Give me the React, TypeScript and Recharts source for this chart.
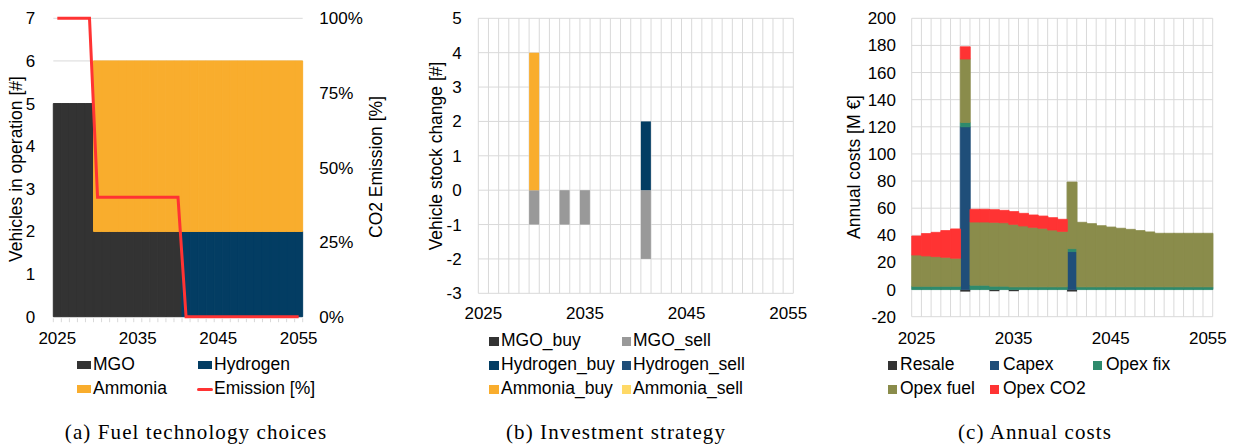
import React from "react"
import { ComposedChart, Bar, Line, XAxis, YAxis, CartesianGrid } from "recharts"

// categories
const years = [
  2025, 2026, 2027, 2028, 2029, 2030, 2031, 2032, 2033, 2034, 2035, 2036, 2037, 2038, 2039, 2040,
  2041, 2042, 2043, 2044, 2045, 2046, 2047, 2048, 2049, 2050, 2051, 2052, 2053, 2054, 2055,
]

// (a) vehicles in operation [#] and CO2 emission share
const mgoFleet = [5, 5, 5, 5, 5, 2, 2, 2, 2, 2, 2, 2, 2, 2, 2, 2, 0, 0, 0, 0, 0, 0, 0, 0, 0, 0, 0, 0, 0, 0, 0]
const hydrogenFleet = [0, 0, 0, 0, 0, 0, 0, 0, 0, 0, 0, 0, 0, 0, 0, 0, 2, 2, 2, 2, 2, 2, 2, 2, 2, 2, 2, 2, 2, 2, 2]
const ammoniaFleet = [0, 0, 0, 0, 0, 4, 4, 4, 4, 4, 4, 4, 4, 4, 4, 4, 4, 4, 4, 4, 4, 4, 4, 4, 4, 4, 4, 4, 4, 4, 4]
const emissionShare = [
  1, 1, 1, 1, 1, 0.4, 0.4, 0.4, 0.4, 0.4, 0.4, 0.4, 0.4, 0.4, 0.4, 0.4, 0, 0, 0, 0, 0, 0, 0, 0, 0, 0, 0, 0, 0, 0, 0,
]

// (b) vehicle stock change [#]
const mgoBuy = [0, 0, 0, 0, 0, 0, 0, 0, 0, 0, 0, 0, 0, 0, 0, 0, 0, 0, 0, 0, 0, 0, 0, 0, 0, 0, 0, 0, 0, 0, 0]
const mgoSell = [0, 0, 0, 0, 0, -1, 0, 0, -1, 0, -1, 0, 0, 0, 0, 0, -2, 0, 0, 0, 0, 0, 0, 0, 0, 0, 0, 0, 0, 0, 0]
const hydrogenBuy = [0, 0, 0, 0, 0, 0, 0, 0, 0, 0, 0, 0, 0, 0, 0, 0, 2, 0, 0, 0, 0, 0, 0, 0, 0, 0, 0, 0, 0, 0, 0]
const hydrogenSell = [0, 0, 0, 0, 0, 0, 0, 0, 0, 0, 0, 0, 0, 0, 0, 0, 0, 0, 0, 0, 0, 0, 0, 0, 0, 0, 0, 0, 0, 0, 0]
const ammoniaBuy = [0, 0, 0, 0, 0, 4, 0, 0, 0, 0, 0, 0, 0, 0, 0, 0, 0, 0, 0, 0, 0, 0, 0, 0, 0, 0, 0, 0, 0, 0, 0]
const ammoniaSell = [0, 0, 0, 0, 0, 0, 0, 0, 0, 0, 0, 0, 0, 0, 0, 0, 0, 0, 0, 0, 0, 0, 0, 0, 0, 0, 0, 0, 0, 0, 0]

// (c) annual costs [M €]
const resale = [0, 0, 0, 0, 0, -1.5, 0, 0, -1.2, 0, -1.2, 0, 0, 0, 0, 0, -1.5, 0, 0, 0, 0, 0, 0, 0, 0, 0, 0, 0, 0, 0, 0]
const capex = [0, 0, 0, 0, 0, 120, 0, 0, 0, 0, 0, 0, 0, 0, 0, 0, 28, 0, 0, 0, 0, 0, 0, 0, 0, 0, 0, 0, 0, 0, 0]
const opexFix = [
  2.4, 2.4, 2.4, 2.4, 2.4, 3.2, 3.2, 3.2, 2.5, 2.5, 2, 2, 2, 2, 2, 2, 2.2, 2, 2, 2, 2, 2, 2, 2, 2, 2, 2, 2, 2, 2, 2,
]
const opexFuel = [
  23.1, 22.4, 21.9, 21.4, 20.7, 46.8, 46.6, 46.6, 47.1, 46.8, 46.1, 44.9, 43.9, 43.2, 41.9, 40.9, 49.1, 47.6, 46.6,
  45.1, 44.1, 43.2, 42.4, 41.5, 40.5, 39.5, 39.5, 39.5, 39.5, 39.5, 39.5,
]
const opexCo2 = [
  14, 16.5, 17.9, 19.7, 21.6, 9, 9.4, 9.4, 9.3, 9.1, 9.4, 9.3, 9.1, 9, 9.1, 8.9, 0, 0, 0, 0, 0, 0, 0, 0, 0, 0, 0, 0, 0,
  0, 0,
]

// tick labels
const fleetTicks = [0, 1, 2, 3, 4, 5, 6, 7]
const shareTicks = [0, 0.25, 0.5, 0.75, 1]
const stockTicks = [-3, -2, -1, 0, 1, 2, 3, 4, 5]
const costTicks = [-20, 0, 20, 40, 60, 80, 100, 120, 140, 160, 180, 200]

const fleetData = years.map((year, i) => ({
  year,
  MGO: mgoFleet[i],
  Hydrogen: hydrogenFleet[i],
  Ammonia: ammoniaFleet[i],
  Emission: emissionShare[i],
}))

const stockData = years.map((year, i) => ({
  year,
  MGO_buy: mgoBuy[i],
  MGO_sell: mgoSell[i],
  Hydrogen_buy: hydrogenBuy[i],
  Hydrogen_sell: hydrogenSell[i],
  Ammonia_buy: ammoniaBuy[i],
  Ammonia_sell: ammoniaSell[i],
}))

const costData = years.map((year, i) => ({
  year,
  Resale: resale[i],
  Capex: capex[i],
  "Opex fix": opexFix[i],
  "Opex fuel": opexFuel[i],
  "Opex CO2": opexCo2[i],
}))

const SANS = "'Liberation Sans', Arial, Helvetica, sans-serif"
const SERIF = "'Liberation Serif', 'Times New Roman', serif"
const GRID = "#d9d9d9"
const tickStyle = { fill: "#000", fontSize: 17, fontFamily: SANS }

const DARK = "#333333"
const NAVY = "#033d63"
const BLUE = "#1f4e79"
const ORANGE = "#f9ad2d"
const GREY = "#999999"
const PALE = "#ffd966"
const TEAL = "#2e8a6c"
const OLIVE = "#8a8c4b"
const RED = "#ff3333"

// vertical grid lines sit on the category boundaries, not the centres
const bandGrid = (args: any) => {
  const o = args.offset
  const step = o.width / years.length
  return [...years.map((_, i) => o.left + i * step), o.left + o.width]
}

// year axis of (a): short tick marks between categories, a label every ten years
const FleetYearTick = (props: any) => {
  const { x, y, payload, index } = props
  const half = payload && payload.offset ? payload.offset : 0
  const last = index === years.length - 1
  return (
    <g>
      <line x1={x - half} x2={x - half} y1={y + 1.6} y2={y + 5.5} stroke={GRID} />
      {last && <line x1={x + half} x2={x + half} y1={y + 1.6} y2={y + 5.5} stroke={GRID} />}
      {index % 10 === 0 && (
        <text x={x} y={y + 15} dy="0.71em" textAnchor="middle" fill="#000" fontSize={17} fontFamily={SANS}>
          {payload.value}
        </text>
      )}
    </g>
  )
}

type LegendItem = { label: string; color: string; x: number; y: number; w: number; h: number; tx: number; line?: boolean }

const legendItems: LegendItem[] = [
  { label: "MGO", color: DARK, x: 77, y: 365, w: 14, h: 8, tx: 93 },
  { label: "Hydrogen", color: NAVY, x: 198, y: 365, w: 14, h: 8, tx: 214 },
  { label: "Ammonia", color: ORANGE, x: 77, y: 389, w: 14, h: 8, tx: 93 },
  { label: "Emission [%]", color: RED, x: 197, y: 389, w: 16, h: 3, tx: 214, line: true },

  { label: "MGO_buy", color: DARK, x: 489, y: 341, w: 10, h: 9, tx: 501 },
  { label: "MGO_sell", color: GREY, x: 622, y: 341, w: 9, h: 9, tx: 633 },
  { label: "Hydrogen_buy", color: NAVY, x: 489, y: 365, w: 10, h: 9, tx: 501 },
  { label: "Hydrogen_sell", color: BLUE, x: 622, y: 365, w: 9, h: 9, tx: 633 },
  { label: "Ammonia_buy", color: ORANGE, x: 489, y: 389, w: 10, h: 9, tx: 501 },
  { label: "Ammonia_sell", color: PALE, x: 622, y: 389, w: 9, h: 9, tx: 633 },

  { label: "Resale", color: DARK, x: 888, y: 365, w: 9, h: 9, tx: 900 },
  { label: "Capex", color: BLUE, x: 990, y: 365, w: 9, h: 9, tx: 1003 },
  { label: "Opex fix", color: TEAL, x: 1093, y: 365, w: 9, h: 9, tx: 1106 },
  { label: "Opex fuel", color: OLIVE, x: 888, y: 389, w: 9, h: 9, tx: 900 },
  { label: "Opex CO2", color: RED, x: 990, y: 389, w: 9, h: 9, tx: 1003 },
]

const axisTitles = [
  { text: "Vehicles in operation [#]", x: 17, y: 169 },
  { text: "CO2 Emission [%]", x: 377, y: 167 },
  { text: "Vehicle stock change [#]", x: 437, y: 156 },
  { text: "Annual costs [M €]", x: 855, y: 167 },
]

const captions = [
  { text: "(a) Fuel technology choices", x: 196 },
  { text: "(b) Investment strategy", x: 616 },
  { text: "(c) Annual costs", x: 1035 },
]

function FleetChart() {
  return (
    <ComposedChart
      width={410}
      height={360}
      data={fleetData}
      margin={{ top: 18.3, right: 0, bottom: 15, left: 0 }}
      barCategoryGap={0}
      barGap={0}
    >
      <CartesianGrid yAxisId="left" vertical={false} stroke={GRID} />
      <XAxis
        dataKey="year"
        height={28.3}
        interval={0}
        axisLine={false}
        tickLine={false}
        tickSize={0}
        tickMargin={0}
        tick={<FleetYearTick />}
      />
      <YAxis
        yAxisId="left"
        width={53.3}
        domain={[0, 7]}
        ticks={fleetTicks}
        axisLine={false}
        tickLine={false}
        tickSize={0}
        tickMargin={18}
        tick={tickStyle}
      />
      <YAxis
        yAxisId="right"
        orientation="right"
        width={107.3}
        domain={[0, 1]}
        ticks={shareTicks}
        tickFormatter={(v: number) => `${Math.round(v * 100)}%`}
        axisLine={false}
        tickLine={false}
        tickSize={0}
        tickMargin={16.6}
        tick={tickStyle}
      />
      <Bar yAxisId="left" dataKey="MGO" stackId="fleet" fill={DARK} stroke={DARK} strokeWidth={1} isAnimationActive={false} />
      <Bar yAxisId="left" dataKey="Hydrogen" stackId="fleet" fill={NAVY} stroke={NAVY} strokeWidth={1} isAnimationActive={false} />
      <Bar yAxisId="left" dataKey="Ammonia" stackId="fleet" fill={ORANGE} stroke={ORANGE} strokeWidth={1} isAnimationActive={false} />
      <Line
        yAxisId="right"
        type="linear"
        dataKey="Emission"
        stroke={RED}
        strokeWidth={3}
        dot={false}
        activeDot={false}
        isAnimationActive={false}
      />
    </ComposedChart>
  )
}

function StockChart() {
  return (
    <ComposedChart
      width={400}
      height={340}
      data={stockData}
      margin={{ top: 18.3, right: 16.7, bottom: 10, left: 0 }}
      barCategoryGap={0}
      barGap={0}
      stackOffset="sign"
    >
      <CartesianGrid stroke={GRID} verticalCoordinatesGenerator={bandGrid} />
      <XAxis
        dataKey="year"
        height={36.7}
        interval={9}
        axisLine={false}
        tickLine={false}
        tickSize={0}
        tickMargin={14}
        tick={tickStyle}
      />
      <YAxis
        width={68.3}
        domain={[-3, 5]}
        ticks={stockTicks}
        axisLine={false}
        tickLine={false}
        tickSize={0}
        tickMargin={16.6}
        tick={tickStyle}
      />
      <Bar dataKey="MGO_buy" stackId="s" fill={DARK} isAnimationActive={false} />
      <Bar dataKey="MGO_sell" stackId="s" fill={GREY} isAnimationActive={false} />
      <Bar dataKey="Hydrogen_buy" stackId="s" fill={NAVY} isAnimationActive={false} />
      <Bar dataKey="Hydrogen_sell" stackId="s" fill={BLUE} isAnimationActive={false} />
      <Bar dataKey="Ammonia_buy" stackId="s" fill={ORANGE} isAnimationActive={false} />
      <Bar dataKey="Ammonia_sell" stackId="s" fill={PALE} isAnimationActive={false} />
    </ComposedChart>
  )
}

function CostChart() {
  return (
    <ComposedChart
      width={415}
      height={360}
      data={costData}
      margin={{ top: 18.3, right: 22.3, bottom: 15, left: 0 }}
      barCategoryGap={0}
      barGap={0}
      stackOffset="sign"
    >
      <CartesianGrid stroke={GRID} verticalCoordinatesGenerator={bandGrid} />
      <XAxis
        dataKey="year"
        height={28.3}
        interval={9}
        axisLine={false}
        tickLine={false}
        tickSize={0}
        tickMargin={15}
        tick={tickStyle}
      />
      <YAxis
        width={91.7}
        domain={[-20, 200]}
        ticks={costTicks}
        axisLine={false}
        tickLine={false}
        tickSize={0}
        tickMargin={15.7}
        tick={tickStyle}
      />
      <Bar dataKey="Resale" stackId="c" fill={DARK} isAnimationActive={false} />
      <Bar dataKey="Capex" stackId="c" fill={BLUE} stroke={BLUE} strokeWidth={0.8} isAnimationActive={false} />
      <Bar dataKey="Opex fix" stackId="c" fill={TEAL} stroke={TEAL} strokeWidth={0.8} isAnimationActive={false} />
      <Bar dataKey="Opex fuel" stackId="c" fill={OLIVE} stroke={OLIVE} strokeWidth={0.8} isAnimationActive={false} />
      <Bar dataKey="Opex CO2" stackId="c" fill={RED} stroke={RED} strokeWidth={0.8} isAnimationActive={false} />
    </ComposedChart>
  )
}

export default function App() {
  return (
    <div
      style={{
        position: "absolute",
        left: 0,
        top: 0,
        width: 1235,
        height: 446,
        background: "#fff",
        overflow: "hidden",
        fontFamily: SANS,
        color: "#000",
      }}
    >
      <div style={{ position: "absolute", left: 0, top: 0 }}>
        <FleetChart />
      </div>
      <div style={{ position: "absolute", left: 410, top: 0 }}>
        <StockChart />
      </div>
      <div style={{ position: "absolute", left: 820, top: 0 }}>
        <CostChart />
      </div>

      {axisTitles.map((t) => (
        <div
          key={t.text}
          style={{
            position: "absolute",
            left: t.x,
            top: t.y,
            transform: "translate(-50%, -50%) rotate(-90deg)",
            whiteSpace: "nowrap",
            fontSize: 17.5,
            lineHeight: 1,
          }}
        >
          {t.text}
        </div>
      ))}

      {legendItems.map((it) => (
        <React.Fragment key={it.label}>
          <div
            style={{
              position: "absolute",
              left: it.x,
              top: it.y - it.h / 2,
              width: it.w,
              height: it.h,
              background: it.color,
              borderRadius: it.line ? 1.5 : 0,
            }}
          />
          <div
            style={{
              position: "absolute",
              left: it.tx,
              top: it.y,
              transform: "translateY(-50%)",
              whiteSpace: "nowrap",
              fontSize: 17.5,
              lineHeight: 1,
            }}
          >
            {it.label}
          </div>
        </React.Fragment>
      ))}

      {captions.map((c) => (
        <div
          key={c.text}
          style={{
            position: "absolute",
            left: c.x,
            top: 432,
            transform: "translate(-50%, -50%)",
            whiteSpace: "nowrap",
            fontFamily: SERIF,
            fontSize: 21,
            letterSpacing: 1.1,
            lineHeight: 1,
          }}
        >
          {c.text}
        </div>
      ))}
    </div>
  )
}
